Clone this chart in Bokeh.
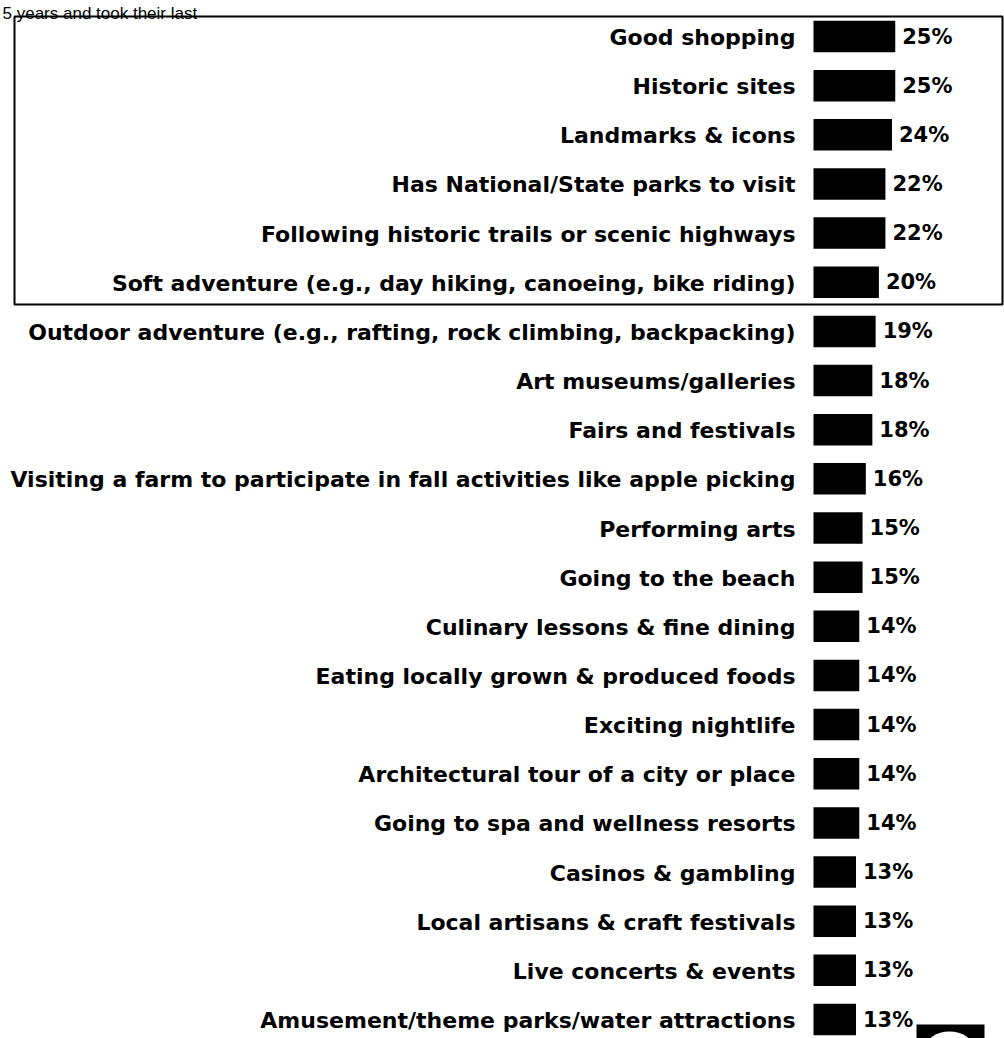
from bokeh.plotting import figure
from bokeh.models import Range1d, ColumnDataSource, BoxAnnotation
from bokeh.core.properties import value
from bokeh.embed import file_html
from bokeh.resources import INLINE

categories = [
    "Good shopping",
    "Historic sites",
    "Landmarks & icons",
    "Has National/State parks to visit",
    "Following historic trails or scenic highways",
    "Soft adventure (e.g., day hiking, canoeing, bike riding)",
    "Outdoor adventure (e.g., rafting, rock climbing, backpacking)",
    "Art museums/galleries",
    "Fairs and festivals",
    "Visiting a farm to participate in fall activities like apple picking",
    "Performing arts",
    "Going to the beach",
    "Culinary lessons & fine dining",
    "Eating locally grown & produced foods",
    "Exciting nightlife",
    "Architectural tour of a city or place",
    "Going to spa and wellness resorts",
    "Casinos & gambling",
    "Local artisans & craft festivals",
    "Live concerts & events",
    "Amusement/theme parks/water attractions",
]
values = [25, 25, 24, 22, 22, 20, 19, 18, 18, 16, 15, 15, 14, 14, 14, 14, 14, 13, 13, 13, 13]
value_labels = [f"{v}%" for v in values]
top_text = "5 years and took their last"

W, H = 1004, 1038
x0_px, px_per = 813.0, 3.27
row0_px, row_px = 36.0, 49.15

rows = list(range(len(categories)))
src = ColumnDataSource(dict(cat=categories, val=values, lab=value_labels, row=rows))

x_rng = Range1d(-x0_px / px_per, (W - x0_px) / px_per)
y_rng = Range1d((H - row0_px) / row_px, -row0_px / row_px)

p = figure(width=W, height=H, x_range=x_rng, y_range=y_rng,
           output_backend="svg", toolbar_location=None,
           min_border=0, outline_line_color=None)
p.axis.visible = False
p.grid.visible = False
p.background_fill_color = "white"

p.hbar(y="row", right="val", left=0, height=31.5 / row_px, source=src,
       fill_color="black", line_color=None)

p.text(x=0, y="row", text="cat", source=src, x_offset=-18, y_offset=1,
       text_align="right", text_baseline="middle",
       text_font=value("DejaVu Sans"), text_font_style="bold", text_font_size="22px",
       text_color="black")
p.text(x="val", y="row", text="lab", source=src, x_offset=7,
       text_align="left", text_baseline="middle",
       text_font=value("DejaVu Sans"), text_font_style="bold", text_font_size="21px",
       text_color="black")

# heading fragment at the very top (as in the source image)
p.text(x=[x_rng.start], y=[(13 - row0_px) / row_px], text=[top_text], x_offset=2,
       text_align="left", text_baseline="alphabetic",
       text_font=value("Liberation Sans"), text_font_size="17px", text_color="black")

# frame around the top six items
box = BoxAnnotation(left=(14 - x0_px) / px_per, right=(1002 - x0_px) / px_per,
                    top=(16 - row0_px) / row_px, bottom=(304 - row0_px) / row_px,
                    fill_color=None, fill_alpha=0, line_color="black", line_alpha=1,
                    line_width=2)
p.add_layout(box)

# partial logo at the bottom right
p.quad(left=[(916 - x0_px) / px_per], right=[(984 - x0_px) / px_per],
       top=[(1024 - row0_px) / row_px], bottom=[(1045 - row0_px) / row_px],
       fill_color="black", line_color=None)
p.ellipse(x=[(949 - x0_px) / px_per], y=[(1048 - row0_px) / row_px],
          width=48 / px_per, height=34 / row_px, fill_color="white", line_color=None)

open("out.html", "w").write(file_html(p, INLINE))
